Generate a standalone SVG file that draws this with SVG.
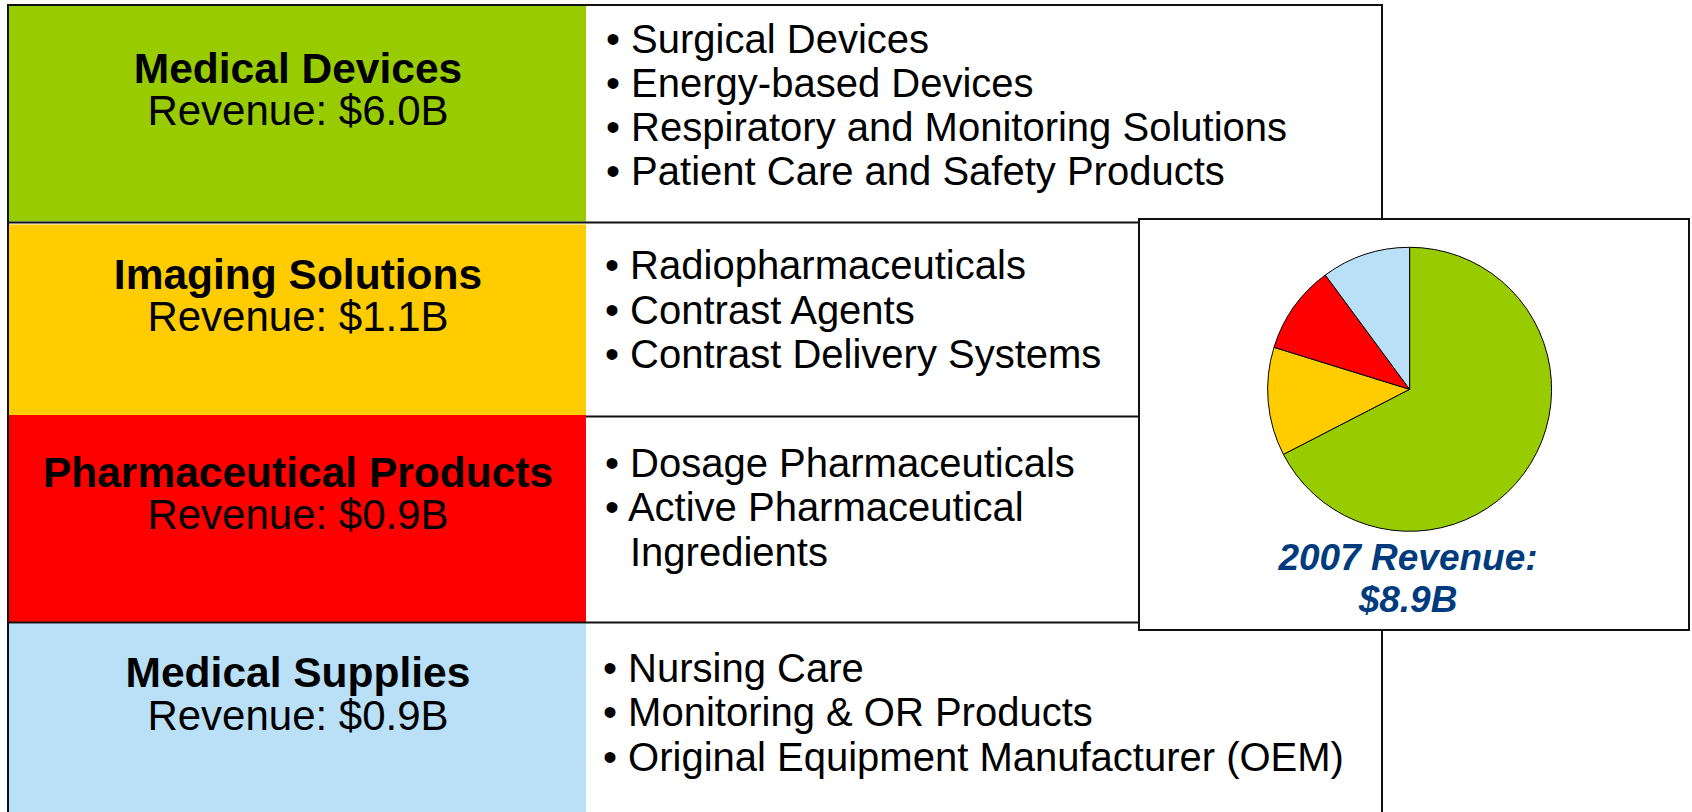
<svg xmlns="http://www.w3.org/2000/svg" width="1692" height="812" viewBox="0 0 1692 812">
  <style>
    .head { font-family: "Liberation Sans", Arial, sans-serif; font-weight: bold; font-size: 42.5px; fill: #000; text-anchor: middle; }
    .rev { font-family: "Liberation Sans", Arial, sans-serif; font-size: 42px; fill: #000; text-anchor: middle; }
    .item { font-family: "Liberation Sans", Arial, sans-serif; font-size: 40px; fill: #000; }
    .grid { stroke: #111; stroke-width: 2; fill: none; }
    .slice { stroke: #000; stroke-width: 1; }
    .cap { font-family: "Liberation Sans", Arial, sans-serif; font-weight: bold; font-style: italic; font-size: 37px; fill: #003C7D; text-anchor: middle; }
  </style>
  <rect x="0" y="0" width="1692" height="812" fill="#fff"/>

  <g id="row-medical-devices">
    <rect x="9" y="6" width="577" height="215.5" fill="#99CC00"/>
    <text class="head" x="298" y="83">Medical Devices</text>
    <text class="rev" x="298" y="125">Revenue: $6.0B</text>
    <text class="item" x="606" y="52.5">• Surgical Devices</text>
    <text class="item" x="606" y="96.8">• Energy-based Devices</text>
    <text class="item" x="606" y="141">• Respiratory and Monitoring Solutions</text>
    <text class="item" x="606" y="185.2">• Patient Care and Safety Products</text>
  </g>

  <g id="row-imaging-solutions">
    <rect x="9" y="224.5" width="577" height="191" fill="#FFCC00"/>
    <text class="head" x="298" y="289">Imaging Solutions</text>
    <text class="rev" x="298" y="331">Revenue: $1.1B</text>
    <text class="item" x="605" y="279">• Radiopharmaceuticals</text>
    <text class="item" x="605" y="323.5">• Contrast Agents</text>
    <text class="item" x="605" y="368">• Contrast Delivery Systems</text>
  </g>

  <g id="row-pharmaceutical-products">
    <rect x="9" y="415" width="577" height="207" fill="#FF0000"/>
    <text class="head" x="298" y="487">Pharmaceutical Products</text>
    <text class="rev" x="298" y="529">Revenue: $0.9B</text>
    <text class="item" x="605" y="476.5">• Dosage Pharmaceuticals</text>
    <text class="item" x="605" y="521">• Active Pharmaceutical</text>
    <text class="item" x="630" y="565.5">Ingredients</text>
  </g>

  <g id="row-medical-supplies">
    <rect x="9" y="623.5" width="577" height="190" fill="#B9E0F7"/>
    <text class="head" x="298" y="687">Medical Supplies</text>
    <text class="rev" x="298" y="730">Revenue: $0.9B</text>
    <text class="item" x="603" y="682">• Nursing Care</text>
    <text class="item" x="603" y="726.3">• Monitoring &amp; OR Products</text>
    <text class="item" x="603" y="770.6">• Original Equipment Manufacturer (OEM)</text>
  </g>

  <g id="grid-lines">
    <line class="grid" x1="7" y1="5" x2="1383" y2="5"/>
    <line class="grid" x1="8" y1="4" x2="8" y2="812"/>
    <line class="grid" x1="1382" y1="4" x2="1382" y2="812"/>
    <line class="grid" x1="8" y1="222.5" x2="1382" y2="222.5"/>
    <line class="grid" x1="586" y1="416.5" x2="1382" y2="416.5"/>
    <line class="grid" x1="8" y1="622.5" x2="1382" y2="622.5"/>
  </g>

  <g id="revenue-chart">
    <rect x="1139" y="219" width="550" height="411" fill="#fff" stroke="#111" stroke-width="2"/>
    <path class="slice" fill="#99CC00" d="M1409.6,389.3 L1409.6,247.3 A142,142 0 1 1 1283.4,454.4 Z"/>
    <path class="slice" fill="#FFCC00" d="M1409.6,389.3 L1283.4,454.4 A142,142 0 0 1 1274,347.3 Z"/>
    <path class="slice" fill="#FF0000" d="M1409.6,389.3 L1274,347.3 A142,142 0 0 1 1325.3,275 Z"/>
    <path class="slice" fill="#B9E0F7" d="M1409.6,389.3 L1325.3,275 A142,142 0 0 1 1409.6,247.3 Z"/>
    <text class="cap" x="1408" y="570">2007 Revenue:</text>
    <text class="cap" x="1408" y="612">$8.9B</text>
  </g>
</svg>
